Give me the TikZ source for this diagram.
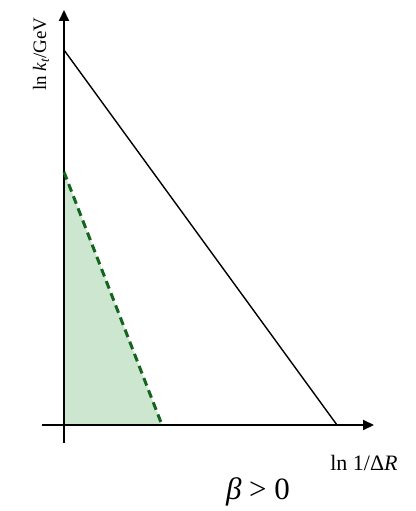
\documentclass[tikz,border=0pt]{standalone}
\usepackage{fontspec}
\setmainfont{Liberation Serif}
\usetikzlibrary{arrows.meta}
\definecolor{regionfill}{RGB}{204,230,208}
\definecolor{cutgreen}{RGB}{20,100,30}
\begin{document}
\begin{tikzpicture}[
		x=1pt, y=-1pt,
		axis/.style={line width=2pt, -{Triangle[length=11pt,width=10pt]}},
		cutline/.style={cutgreen, line width=3pt, dash pattern=on 8pt off 5pt},
		edgeline/.style={line width=1.4pt},
		every node/.style={inner sep=0pt}
		]
		\useasboundingbox (0,0) rectangle (415,511);
		
		\coordinate (origin) at (64,425);
		\coordinate (xend) at (374,425);
		\coordinate (xstart) at (42,425);
		\coordinate (ystart) at (64,443);
		\coordinate (yend) at (64,10);
		\coordinate (ktop) at (64,50);
		\coordinate (rend) at (337,425);
		\coordinate (ctop) at (64,172);
		\coordinate (cend) at (162,425);
		
		\fill[regionfill] (origin) -- (ctop) -- (cend) -- cycle;
		
		\draw[axis] (xstart) -- (xend);
		\draw[axis] (ystart) -- (yend);
		
		\draw[edgeline] (ktop) -- (rend);
		\draw[cutline] (ctop) -- (cend);
		
		\node[rotate=90, font=\fontsize{19}{22}\selectfont] (ylabel) at (41,54) {ln \textit{k\textsubscript{t}}/GeV};
		\node[font=\fontsize{22}{26}\selectfont] (xlabel) at (364,463) {ln 1/Δ\textit{R}};
		\node[font=\fontsize{31}{35}\selectfont] (beta) at (258,492) {\textit{β} \textgreater{} 0};
		
	\end{tikzpicture}
\end{document}
